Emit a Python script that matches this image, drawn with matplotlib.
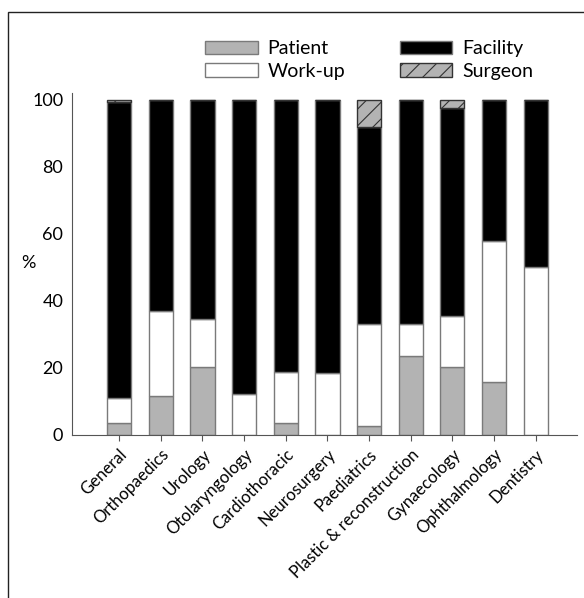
import numpy as np
import matplotlib
matplotlib.use("Agg")
import matplotlib.pyplot as plt
from matplotlib.patches import Rectangle

plt.rcParams['font.family'] = ['Lato', 'DejaVu Sans']
plt.rcParams['hatch.linewidth'] = 0.8

# data (%)
specialties = ['General', 'Orthopaedics', 'Urology', 'Otolaryngology', 'Cardiothoracic',
               'Neurosurgery', 'Paediatrics', 'Plastic & reconstruction', 'Gynaecology',
               'Ophthalmology', 'Dentistry']
patient = [3.7, 11.7, 20.3, 0, 3.7, 0, 2.6, 23.7, 20.3, 15.7, 0]
workup = [7.2, 25.3, 14.3, 12.2, 15.0, 18.4, 30.5, 9.4, 15.3, 42.1, 50.0]
facility = [88.5, 63.0, 65.4, 87.8, 81.3, 81.6, 58.7, 66.9, 62.0, 42.2, 50.0]
surgeon = [0.6, 0, 0, 0, 0, 0, 8.2, 0, 2.4, 0, 0]

fig = plt.figure(figsize=(5.84, 5.98), dpi=100)
ax = fig.add_axes([0.1226, 0.2726, 0.8654, 0.5714])

x = np.arange(len(specialties))
w = 0.58
edge = '#7a7a7a'
b1 = np.array(patient)
b2 = b1 + np.array(workup)
b3 = b2 + np.array(facility)

ax.bar(x, patient, w, color='#b3b3b3', edgecolor=edge, linewidth=1, label='Patient')
ax.bar(x, workup, w, bottom=b1, color='white', edgecolor=edge, linewidth=1, label='Work-up')
ax.bar(x, facility, w, bottom=b2, color='black', edgecolor=edge, linewidth=1, label='Facility')
ax.bar(x, surgeon, w, bottom=b3, color='#b3b3b3', edgecolor='#333333', hatch='//',
       linewidth=1, label='Surgeon')

ax.set_xlim(-1.14, 10.99)
ax.set_ylim(0, 102)
ax.set_yticks([0, 20, 40, 60, 80, 100])
ax.set_xticks(x)
ax.set_xticklabels(specialties, rotation=45, ha='right', rotation_mode='anchor', fontsize=12)
ax.tick_params(axis='y', labelsize=13, length=0, pad=6)
ax.tick_params(axis='x', length=4, color='#555555', pad=4)
ax.spines['top'].set_visible(False)
ax.spines['right'].set_visible(False)
ax.spines['left'].set_color('#555555')
ax.spines['bottom'].set_color('#555555')
ax.set_ylabel('%', rotation=0, fontsize=13)
ax.yaxis.set_label_coords(-0.085, 0.48)

h, l = ax.get_legend_handles_labels()
fig.legend(h, l, ncol=2,
           loc='upper left', bbox_to_anchor=(0.335, 0.949), frameon=False,
           fontsize=14, handlelength=2.7, handleheight=0.7, labelspacing=0.3,
           columnspacing=2.8, handletextpad=0.5, borderpad=0)

# frame around the figure
fig.patches.append(Rectangle((8 / 584, -0.05), 1.2, 1 - 12 / 598 + 0.05, transform=fig.transFigure,
                             fill=False, edgecolor='#222222', linewidth=1))

fig.savefig('out.png', dpi=100)
